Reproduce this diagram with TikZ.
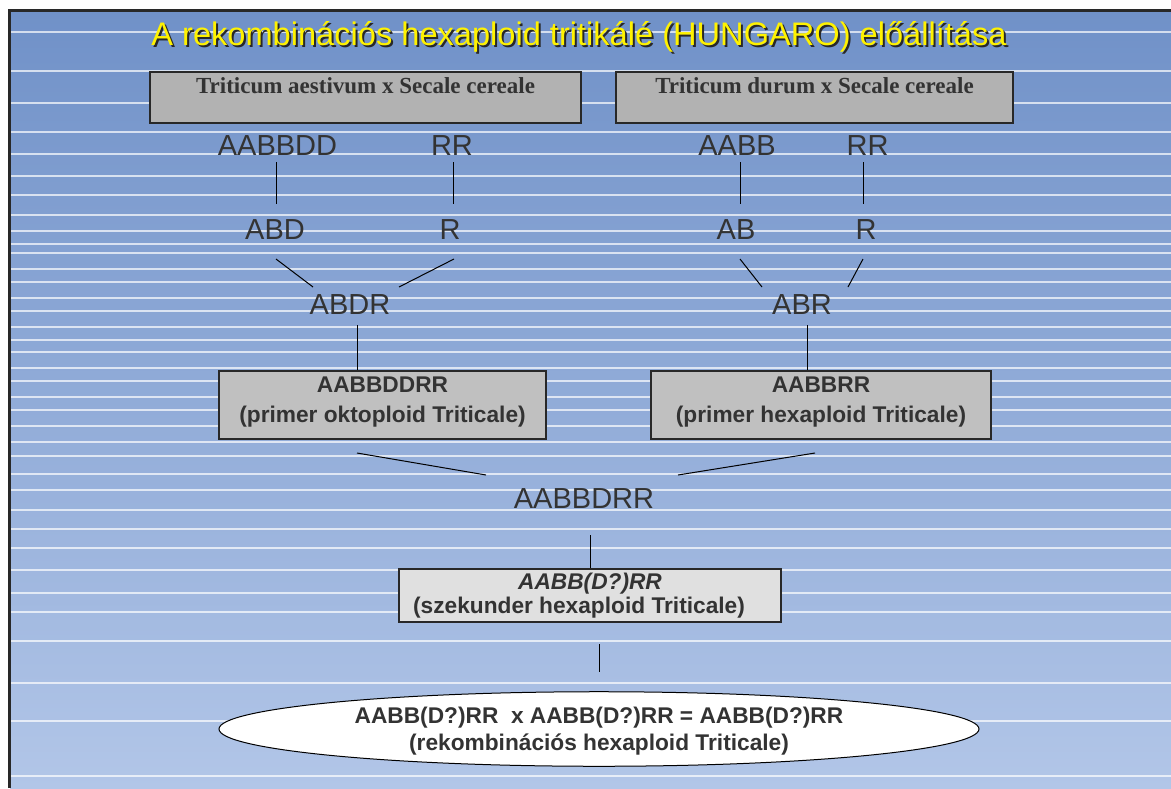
\documentclass[tikz,border=0pt]{standalone}
\usepackage{fontspec}
\setmainfont{Liberation Serif}
\newfontfamily\arial{Liberation Sans}
\usetikzlibrary{shapes.geometric}
\definecolor{bgtop}{RGB}{112,145,200}
\definecolor{bgbot}{RGB}{178,198,232}
\definecolor{txt}{RGB}{51,51,51}
\definecolor{boxA}{RGB}{178,178,178}
\definecolor{boxB}{RGB}{192,192,192}
\definecolor{boxC}{RGB}{224,224,224}
\definecolor{ttl}{RGB}{255,242,0}
\definecolor{frm}{RGB}{40,40,40}
\tikzset{
  stripe/.style={white,opacity=.7,line width=1.2pt},
  link/.style={black,line width=1pt},
  gen/.style={inner sep=0pt,anchor=base,text=txt,font=\arial\fontsize{29}{34}\selectfont},
  topbox/.style={draw=frm,line width=1.2pt,fill=boxA,inner sep=0pt,anchor=base,text=txt,
     text height=21pt,text depth=30pt,font=\bfseries\fontsize{23}{27}\selectfont},
  midbox/.style={draw=frm,line width=1.2pt,fill=boxB,inner sep=0pt,align=center,text=txt,
     font=\arial\bfseries\fontsize{22.7}{30}\selectfont},
  secbox/.style={draw=frm,line width=1.2pt,fill=boxC,inner sep=0pt,align=center,text=txt,
     font=\arial\bfseries\fontsize{22.7}{24}\selectfont},
  endell/.style={ellipse,draw=black,line width=1pt,fill=white,inner sep=0pt,align=center,text=txt,
     font=\arial\bfseries\fontsize{22.7}{27}\selectfont},
}
\begin{document}
\begin{tikzpicture}[x=1pt,y=-1pt]
\useasboundingbox (0,0) rectangle (1171,788);
\fill[white] (0,0) rectangle (1171,788);
\shade[top color=bgtop,bottom color=bgbot] (10,11) rectangle (1171,788);
\foreach \yy in {32,71,103,132,154,176,195,215,231,244,253,269,282,298,311,327,340,352,368,381,397,410,426,442,456,474,490,510,529,548,570,593,612,641,683,721,776}
  \draw[stripe] (11,\yy) -- (1171,\yy);
\draw[frm,line width=2.5pt] (9.5,788) -- (9.5,10.5) -- (1171,10.5);

% title
\node[inner sep=0pt,anchor=base,text=frm,font=\arial\fontsize{32.6}{38}\selectfont] (titleshadow) at (581,47) {A rekombinációs hexaploid tritikálé (HUNGARO) előállítása};
\node[inner sep=0pt,anchor=base,text=ttl,font=\arial\fontsize{32.6}{38}\selectfont] (title) at (579,45) {A rekombinációs hexaploid tritikálé (HUNGARO) előállítása};

% top boxes
\node[topbox,minimum width=431pt] (aest) at (365.5,93) {Triticum aestivum x Secale cereale};
\node[topbox,minimum width=397pt] (durum) at (814.5,93) {Triticum durum x Secale cereale};

% genomes left
\node[gen] (aabbdd) at (277.5,155) {AABBDD};
\node[gen] (rrL) at (452,155) {RR};
\node[gen] (abd) at (275,239) {ABD};
\node[gen] (rL) at (450,239) {R};
\node[gen] (abdr) at (350,314) {ABDR};
% genomes right
\node[gen] (aabb) at (737,155) {AABB};
\node[gen] (rrR) at (867.5,155) {RR};
\node[gen] (ab) at (736,239) {AB};
\node[gen] (rR) at (866,239) {R};
\node[gen] (abr) at (802,314) {ABR};

% primary triticale boxes
\node[midbox,minimum width=327pt,minimum height=68pt] (okto) at (382.5,405)
  {AABBDDRR\\(primer oktoploid Triticale)\rule[-10pt]{0pt}{10pt}};
\node[midbox,minimum width=340pt,minimum height=68pt] (hexa) at (821,405)
  {AABBRR\\(primer hexaploid Triticale)\rule[-10pt]{0pt}{10pt}};

\node[gen] (aabbdrr) at (584,508) {AABBDRR};

\node[secbox,minimum width=382pt,minimum height=53pt] (szek) at (590,595.5)
  {\itshape AABB(D?)RR\\(szekunder hexaploid Triticale)\hspace*{22pt}};

\node[endell,minimum width=760pt,minimum height=72pt] (rekomb) at (599,729)
  {\rule{0pt}{21pt}AABB(D?)RR\ \ x AABB(D?)RR = AABB(D?)RR\\(rekombinációs hexaploid Triticale)};

% connector end points
\coordinate (a1) at (276,162); \coordinate (a2) at (276,204);
\coordinate (b1) at (453,162); \coordinate (b2) at (453,204);
\coordinate (a3) at (276,259); \coordinate (a4) at (313,287);
\coordinate (b3) at (454,259); \coordinate (b4) at (399,287);
\coordinate (a5) at (357,325);
\coordinate (c1) at (740,162); \coordinate (c2) at (740,204);
\coordinate (d1) at (863,162); \coordinate (d2) at (863,204);
\coordinate (c3) at (740,259); \coordinate (c4) at (762,287);
\coordinate (d3) at (863,259); \coordinate (d4) at (848,287);
\coordinate (c5) at (807,325);
\coordinate (m1) at (357,453); \coordinate (m2) at (486,475);
\coordinate (n1) at (815,453); \coordinate (n2) at (678,475);
\coordinate (s1) at (590,535);
\coordinate (e1) at (599,644); \coordinate (e2) at (599,672);

\draw[link] (a1) -- (a2);
\draw[link] (b1) -- (b2);
\draw[link] (a3) -- (a4);
\draw[link] (b3) -- (b4);
\draw[link] (a5) -- (a5 |- okto.north);
\draw[link] (c1) -- (c2);
\draw[link] (d1) -- (d2);
\draw[link] (c3) -- (c4);
\draw[link] (d3) -- (d4);
\draw[link] (c5) -- (c5 |- hexa.north);
\draw[link] (m1) -- (m2);
\draw[link] (n1) -- (n2);
\draw[link] (s1) -- (s1 |- szek.north);
\draw[link] (e1) -- (e2);
\end{tikzpicture}
\end{document}
